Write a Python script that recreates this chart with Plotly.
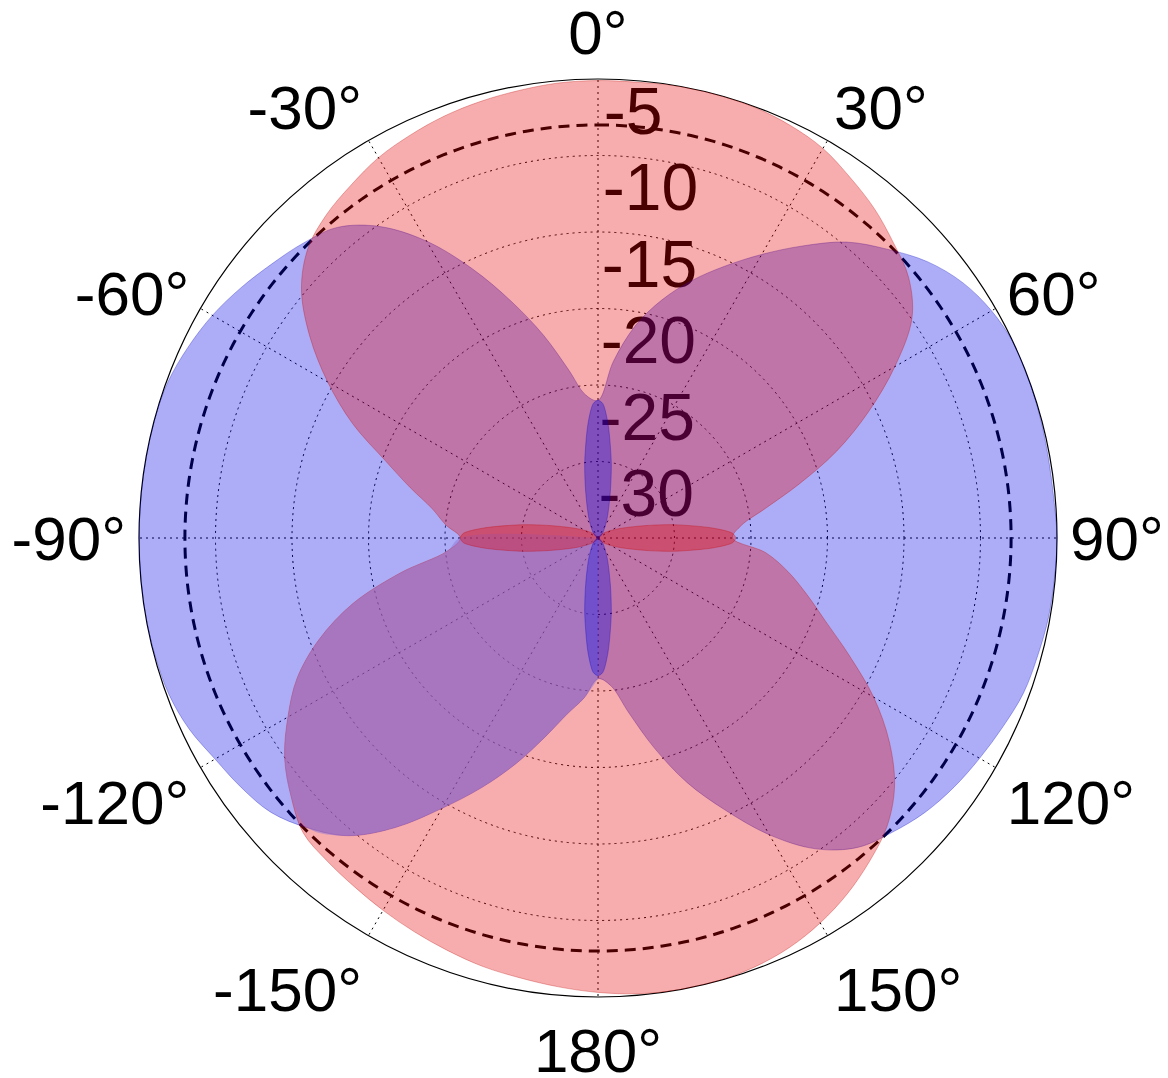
import numpy as np
import plotly.graph_objects as go

# ---------------- data (dB, angle in degrees, clockwise from top) ----------------
theta_deg = list(range(-180, 181, 5))

red_db = [
    -0.3, -0.55, -0.8, -1.0, -1.3, -1.6, -1.9, -2.2, -2.45, -2.75,      # -180 .. -135
    -3.8, -5.0, -6.6, -8.3, -10.6, -13.4, -16.9, -20.1, -21.0,           # -130 .. -90
    -20.0, -19.0, -17.3, -15.2, -12.3, -9.6, -7.0, -4.7, -3.2,           # -85 .. -45
    -2.4, -1.85, -1.3, -0.95, -0.65, -0.45, -0.3, -0.15,                 # -40 .. -5
    -0.1,                                                                # 0
    -0.1, 0.0, 0.0, -0.05, -0.25, -0.6, -1.25, -1.9, -2.7,               # 5 .. 45
    -3.5, -4.95, -7.6, -10.5, -13.4, -16.4, -18.9, -20.6, -21.2,         # 50 .. 90
    -19.0, -17.4, -15.9, -14.2, -11.9, -9.2, -6.75, -4.7, -3.3,          # 95 .. 135
    -2.4, -1.6, -0.95, -0.45, -0.15, 0.0, 0.0, -0.1, -0.3,               # 140 .. 180
]

blue_db = [
    -20.8, -19.5, -18.3, -16.5, -14.3, -12.0, -9.6, -6.9, -4.6, -3.2,    # -180 .. -135
    -2.1, -1.55, -1.1, -0.5, -0.15, -0.05, 0.0, 0.0, 0.0,                # -130 .. -90
    0.0, 0.0, 0.0, -0.1, -0.45, -0.9, -1.5, -2.15, -2.75,                # -85 .. -45
    -3.5, -5.15, -7.6, -10.6, -13.6, -16.3, -18.8, -20.6,                # -40 .. -5
    -21.0,                                                               # 0
    -18.4, -15.9, -13.9, -12.1, -10.4, -8.6, -6.7, -4.75, -3.3,          # 5 .. 45
    -1.9, -0.9, -0.3, 0.0, 0.0, -0.05, -0.1, -0.1, 0.0,                  # 50 .. 90
    -0.05, -0.1, -0.25, -0.4, -0.8, -1.2, -1.6, -2.1, -2.8,              # 95 .. 135
    -3.6, -5.2, -7.6, -10.4, -13.0, -15.8, -18.4, -20.3, -20.8,          # 140 .. 180
]

# narrow spurious lobes near the centre (offset from lobe axis, dB)
spur_offset = [-90, -45, -25, -15, -10, -5, -2, 0, 2, 5, 10, 15, 25, 45, 90]
spur_db = [-30, -29.6, -28.6, -26.9, -25.0, -22.5, -21.2, -21.0,
           -21.2, -22.5, -25.0, -26.9, -28.6, -29.6, -30]
red_spur_axes = [90, -90]
blue_spur_axes = [0, 180]

ref_level = -3
radial_ticks = [-5, -10, -15, -20, -25, -30]
radial_labels = ["-5", "-10", "-15", "-20", "-25", "-30"]
angle_ticks = [0, 30, 60, 90, 120, 150, 180, 210, 240, 270, 300, 330]
angle_labels = ["0°", "30°", "60°", "90°", "120°", "150°", "180°",
                "-150°", "-120°", "-90°", "-60°", "-30°"]

FONT = "Liberation Sans, Arial, sans-serif"
SMOOTH = 1.0
RED_FILL = "rgba(230,0,0,0.32)"
BLUE_FILL = "rgba(0,0,230,0.32)"

fig = go.Figure()

# -3 dB reference circle (under the fills)
ref_theta = np.linspace(0, 360, 361)
fig.add_trace(go.Scatterpolar(
    theta=ref_theta, r=[ref_level] * len(ref_theta), mode="lines",
    line=dict(color="black", width=3, dash="11px,7px"),
    hoverinfo="skip"))

# radial labels (placed half a step outside their circle, under the fills)
fig.add_trace(go.Scatterpolar(
    theta=[0.8] * len(radial_ticks), r=[v + 2.5 for v in radial_ticks],
    mode="text", text=radial_labels, textposition="middle right",
    textfont=dict(family=FONT, size=66, color="black"),
    hoverinfo="skip"))

# base patterns
fig.add_trace(go.Scatterpolar(
    theta=theta_deg, r=blue_db, mode="lines", fill="toself",
    fillcolor=BLUE_FILL,
    line=dict(color="rgba(0,0,190,0.30)", width=1, shape="spline", smoothing=SMOOTH),
    hoverinfo="skip"))
fig.add_trace(go.Scatterpolar(
    theta=theta_deg, r=red_db, mode="lines", fill="toself",
    fillcolor=RED_FILL,
    line=dict(color="rgba(190,0,0,0.30)", width=1, shape="spline", smoothing=SMOOTH),
    hoverinfo="skip"))

# lower-left overlap is rendered blue-over-red in the original
ll_theta = [t for t in theta_deg if -180 <= t <= -90]
ll_r = [min(r, b) for t, r, b in zip(theta_deg, red_db, blue_db) if -180 <= t <= -90]
fig.add_trace(go.Scatterpolar(
    theta=ll_theta + [-135], r=ll_r + [-30], mode="lines", fill="toself",
    fillcolor="rgba(145,118,215,0.5)",
    line=dict(width=0, shape="spline", smoothing=SMOOTH),
    hoverinfo="skip"))

for ax in red_spur_axes:
    fig.add_trace(go.Scatterpolar(
        theta=[ax + o for o in spur_offset], r=spur_db, mode="lines", fill="toself",
        fillcolor=RED_FILL,
        line=dict(color="rgba(190,0,0,0.3)", width=1, shape="spline", smoothing=0.8),
        hoverinfo="skip"))
for ax in blue_spur_axes:
    fig.add_trace(go.Scatterpolar(
        theta=[ax + o for o in spur_offset], r=spur_db, mode="lines", fill="toself",
        fillcolor=BLUE_FILL,
        line=dict(color="rgba(0,0,190,0.3)", width=1, shape="spline", smoothing=0.8),
        hoverinfo="skip"))

W, H = 1168, 1078
cx, cy, R = 590, 530, 459   # plot circle placement (page renders it ~8px lower/right)
fig.update_layout(
    width=W, height=H,
    margin=dict(l=0, r=0, t=0, b=0),
    paper_bgcolor="white",
    showlegend=False,
    polar=dict(
        domain=dict(x=[(cx - R) / W, (cx + R) / W],
                    y=[(H - cy - R) / H, (H - cy + R) / H]),
        bgcolor="white",
        angularaxis=dict(
            rotation=90, direction="clockwise",
            tickmode="array", tickvals=angle_ticks, ticktext=angle_labels,
            tickfont=dict(family=FONT, size=62, color="black"),
            showline=True, linecolor="black", linewidth=1.2,
            showgrid=True, gridcolor="black", gridwidth=1, griddash="2px,4px",
            ticks="", layer="below traces"),
        radialaxis=dict(
            range=[-30, 0], tickmode="array", tickvals=[-25, -20, -15, -10, -5],
            showticklabels=False, ticks="", showline=False,
            showgrid=True, gridcolor="black", gridwidth=1, griddash="2px,4px",
            layer="below traces"),
    ),
)

fig.write_html("out.html")
